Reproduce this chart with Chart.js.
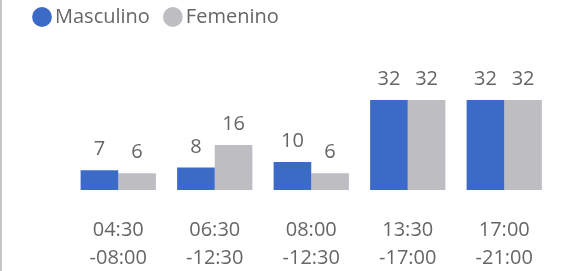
<!DOCTYPE html>
<html>
<head>
<meta charset="utf-8">
<script src="https://cdn.jsdelivr.net/npm/chart.js@4"></script>
<style>
    html, body { margin: 0; padding: 0; background: #fff; }
    .wrap {
        width: 578px;
        height: 271px;
        border-left: 2px solid #c6c6c6;
    }
</style>
</head>
<body>
<div class="wrap"><canvas id="genderChart" width="578" height="271"></canvas></div>
<script>
// Chart data
const timeSlots = [
    ['04:30', '-08:00'],
    ['06:30', '-12:30'],
    ['08:00', '-12:30'],
    ['13:30', '-17:00'],
    ['17:00', '-21:00']
];
const maleCounts = [7, 8, 10, 32, 32];
const femaleCounts = [6, 16, 6, 32, 32];

const textColor = '#666666';
const fontFamily = "'Open Sans', 'Noto Sans', sans-serif";

// Value labels above each bar
const valueLabels = {
    id: 'valueLabels',
    afterDatasetsDraw(chart) {
        const ctx = chart.ctx;
        ctx.save();
        ctx.font = `20px ${fontFamily}`;
        ctx.fillStyle = textColor;
        ctx.textAlign = 'center';
        ctx.textBaseline = 'alphabetic';
        chart.data.datasets.forEach((ds, i) => {
            chart.getDatasetMeta(i).data.forEach((bar, j) => {
                ctx.fillText(ds.data[j], bar.x, bar.y - 15);
            });
        });
        ctx.restore();
    }
};

// Give the legend a fixed height so the plot sits where it should
const legendHeight = {
    id: 'legendHeight',
    beforeInit(chart) {
        const fit = chart.legend.fit;
        chart.legend.fit = function() {
            fit.call(chart.legend);
            this.height = 90.5;
        };
    }
};

new Chart(document.getElementById('genderChart'), {
    type: 'bar',
    data: {
        labels: timeSlots,
        datasets: [{
            label: 'Masculino',
            data: maleCounts,
            backgroundColor: '#3b6bc6'
        }, {
            label: 'Femenino',
            data: femaleCounts,
            backgroundColor: '#bebdc2'
        }]
    },
    options: {
        responsive: false,
        animation: false,
        categoryPercentage: 0.78,
        barPercentage: 1,
        layout: {
            padding: { top: -13, left: 17, right: 27.5, bottom: 0 }
        },
        plugins: {
            legend: {
                position: 'top',
                align: 'start',
                labels: {
                    usePointStyle: true,
                    pointStyle: 'circle',
                    boxWidth: 6,
                    boxHeight: 14,
                    padding: 20,
                    color: textColor,
                    font: { family: fontFamily, size: 20 }
                }
            },
            tooltip: { enabled: false }
        },
        scales: {
            x: {
                grid: { display: false, drawTicks: false },
                border: { display: false },
                ticks: {
                    color: textColor,
                    padding: 26,
                    font: { family: fontFamily, size: 20, lineHeight: 1.4 }
                },
                afterFit: scale => { scale.height = 81; }
            },
            y: {
                min: 0,
                max: 40,
                grid: { display: false, drawTicks: false },
                border: { display: false },
                ticks: { display: false },
                afterFit: scale => { scale.width = 51; }
            }
        }
    },
    plugins: [valueLabels, legendHeight]
});
</script>
</body>
</html>
